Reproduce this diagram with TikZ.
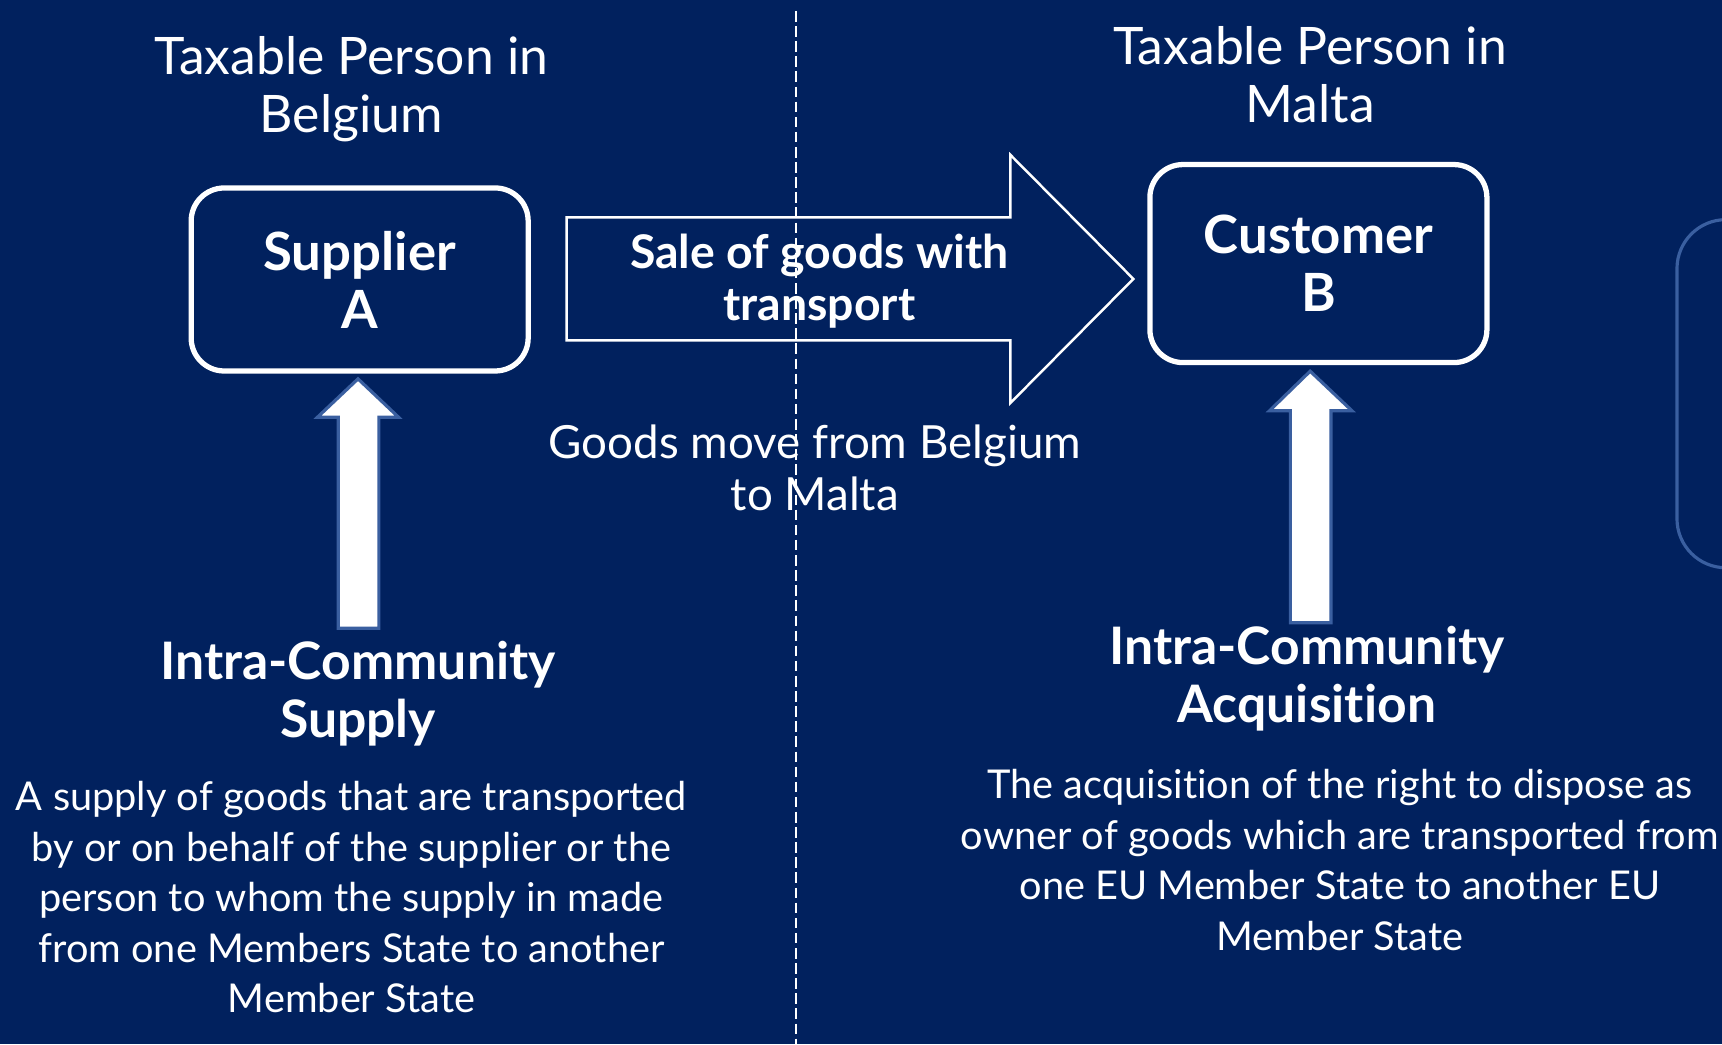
\documentclass[tikz,border=0pt]{standalone}
\usepackage{fontspec}
\setmainfont{Lato}[Ligatures=NoCommon]
\usetikzlibrary{positioning}
\definecolor{navybg}{HTML}{01215E}
\definecolor{edgeblue}{HTML}{3A5FA0}

\begin{document}
\begin{tikzpicture}[x=0.10982mm,y=-0.10982mm,
  every node/.style={text=white,align=center,inner sep=0pt},
  title/.style={font=\fontsize{14.7}{16.4}\selectfont},
  heading/.style={font=\fontsize{14.7}{16.5}\selectfont\bfseries},
  desc/.style={font=\fontsize{11.3}{14.4}\selectfont},
  party/.style={draw=white,line width=1.5pt,rounded corners=3.3mm,
    minimum width=33.7mm,font=\fontsize{15}{16.5}\selectfont\bfseries},
  blockup/.style={fill=white,draw=edgeblue,line width=0.9pt}]

% background and frame
\fill[navybg] (0,0) rectangle (1568,951);
\useasboundingbox (0,0) rectangle (1568,951);
\draw[edgeblue,line width=0.9pt,rounded corners=4.9mm]
  (1600,200) -- (1527,200) -- (1527,517) -- (1600,517);

% border between the two states
\coordinate (cut1) at (725,10);
\coordinate (cut2) at (725,951);
\draw[white,line width=0.5pt,dash pattern=on 3pt off 1.3pt] (cut1) -- (cut2);

\node[title] (titleA) at (320,81) {Taxable Person in\\Belgium};
\node[title] (titleB) at (1193,68) {Taxable Person in\\Malta};

\node[party,minimum height=18.3mm] (supA) at (327.5,254.5) {Supplier\\A};
\node[party,minimum height=19.8mm] (custB) at (1200.5,240) {Customer\\B};

% big arrow
\draw[white,line width=0.7pt]
  (516,198) -- (920,198) -- (920,141) -- (1032,254) --
  (920,367) -- (920,310) -- (516,310) -- cycle;
\node[heading,font=\fontsize{13.2}{14.8}\selectfont\bfseries] (sale) at (746,256) {Sale of goods with\\transport};
\node[title,font=\fontsize{13}{14.8}\selectfont] (move) at (742,426) {Goods move from Belgium\\to Malta};

% up arrows
\draw[blockup] (308,572) -- (308,380) -- (289,380) -- (326,345) --
  (363,380) -- (345,380) -- (345,572) -- cycle;
\draw[blockup] (1175,567) -- (1175,374) -- (1156,374) -- (1193,338) --
  (1231,374) -- (1212,374) -- (1212,567) -- cycle;

\node[heading] (ics) at (326,632) {Intra-Community\\Supply};
\node[desc] (icsdesc) at (320,817) {A supply of goods that are transported\\
  by or on behalf of the supplier or the\\
  person to whom the supply in made\\
  from one Members State to another\\
  Member State};

\node[heading] (ica) at (1190,618) {Intra-Community\\Acquisition};
\node[desc] (icadesc) at (1220,783) {The acquisition of the right to dispose as\\
  owner of goods which are transported from\\
  one EU Member State to another EU\\
  Member State};
\end{tikzpicture}
\end{document}
